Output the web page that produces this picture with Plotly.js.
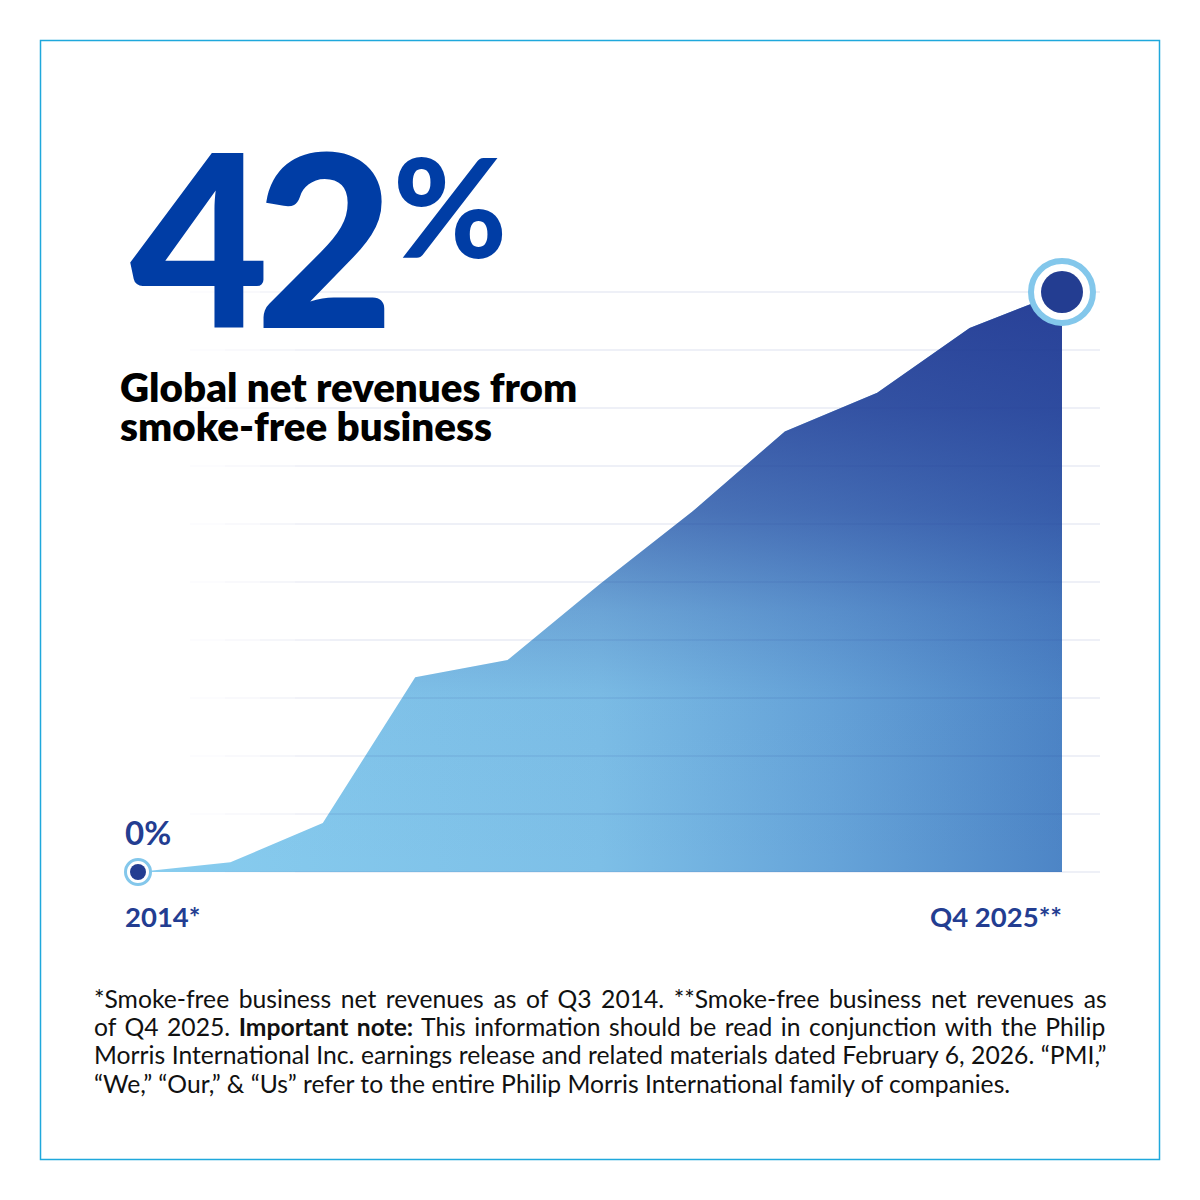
<!DOCTYPE html>
<html>
<head>
<meta charset="utf-8">
<script src="https://cdn.plot.ly/plotly-3.0.1.min.js"></script>
<style>
  html, body { margin: 0; padding: 0; background: #ffffff; }
  #chart { width: 1200px; height: 1200px; }
</style>
</head>
<body>
<div id="chart"></div>
<script>
// Smoke-free share of PMI global net revenues, 2014 (Q3) to Q4 2025, in %
const periods = ['2014', '2015', '2016', '2017', '2018', '2019', '2020', '2021', '2022', '2023', 'Q4 2025'];
const shareValues = [0, 0.7, 3.55, 14.1, 15.35, 20.85, 26.1, 31.9, 34.7, 39.4, 42.0];

const headlineValue = '42';
const startLabel = '0%';
const startPeriodLabel = '2014*';
const endPeriodLabel = 'Q4 2025**';
const titleLines = ['Global net revenues from', 'smoke-free business'];
const footnoteLines = [
  [{ t: '*Smoke-free business net revenues as of Q3 2014. **Smoke-free business net revenues as' }],
  [{ t: 'of Q4 2025. ' }, { t: 'Important note:', b: true }, { t: ' This information should be read in conjunction with the Philip' }],
  [{ t: 'Morris International Inc. earnings release and related materials dated February 6, 2026. \u201CPMI,\u201D' }],
  [{ t: '\u201CWe,\u201D \u201COur,\u201D & \u201CUs\u201D refer to the entire Philip Morris International family of companies.' }]
];

const NAVY = '#233D91';
const ROYAL = '#003DA5';
const SKY = '#83C7EB';
const FONT = 'Lato, "Open Sans", sans-serif';
const W = 1200, H = 1200;

// pixel helpers for paper-referenced decorations (margins are zero)
const px = x => x / W;
const py = y => 1 - y / H;
const ASC = 0.987;  // Lato ascent ratio, used to sit text on a baseline
const topFromBaseline = (base, fs) => py(base - ASC * fs - 1);

const idx = periods.map((_, i) => i);
const n = idx.length;

// plot box
const plotLeft = 100, plotRight = 1100, plotTop = 250, plotBottom = 880;
const firstX = 138, lastX = 1062, zeroY = 872, topY = 292;
const pxPerIdx = (lastX - firstX) / (n - 1);
const xRange = [-(firstX - plotLeft) / pxPerIdx, (n - 1) + (plotRight - lastX) / pxPerIdx];
const maxVal = shareValues[n - 1];
const pxPerPct = (zeroY - topY) / maxVal;
const yRange = [-(plotBottom - zeroY) / pxPerPct, maxVal + (topY - plotTop) / pxPerPct];

const traces = [];

// area with a left-to-right gradient
traces.push({
  x: idx, y: shareValues, type: 'scatter', mode: 'lines',
  line: { width: 0, shape: 'linear' },
  fill: 'tozeroy',
  fillgradient: {
    type: 'horizontal',
    colorscale: [[0, '#88CDEF'], [0.5, '#7DBFE7'], [0.75, '#66A4D9'], [1, '#4D85C6']]
  },
  hoverinfo: 'skip', showlegend: false
});
// darker wash that deepens toward the top
traces.push({
  x: idx, y: shareValues, type: 'scatter', mode: 'lines',
  line: { width: 0 },
  fill: 'tozeroy',
  fillgradient: {
    type: 'vertical',
    colorscale: [[0, 'rgba(35,55,145,0)'], [0.3, 'rgba(35,55,145,0.03)'], [0.45, 'rgba(35,55,145,0.2)'],
                 [0.62, 'rgba(35,55,145,0.52)'], [0.8, 'rgba(35,55,145,0.74)'], [1, 'rgba(35,55,145,0.88)']]
  },
  hoverinfo: 'skip', showlegend: false
});

// horizontal guides every tenth of the final value, fading in from the left
const gridStep = maxVal / 10;
const gridStartPx = 190, gridSolidPx = 330;
const toIdx = p => (p - firstX) / pxPerIdx;
const fadeSteps = [0.15, 0.35, 0.6, 0.85];
for (let k = 0; k <= 10; k++) {
  const lvl = k * gridStep;
  const segW = (gridSolidPx - gridStartPx) / fadeSteps.length;
  fadeSteps.forEach((a, j) => {
    traces.push({
      x: [toIdx(gridStartPx + j * segW), toIdx(gridStartPx + (j + 1) * segW)], y: [lvl, lvl],
      type: 'scatter', mode: 'lines', line: { color: 'rgba(45,60,150,' + (0.16 * a).toFixed(3) + ')', width: 1.2 },
      hoverinfo: 'skip', showlegend: false
    });
  });
  traces.push({
    x: [toIdx(gridSolidPx), xRange[1]], y: [lvl, lvl],
    type: 'scatter', mode: 'lines', line: { color: 'rgba(45,60,150,0.16)', width: 1.2 },
    hoverinfo: 'skip', showlegend: false
  });
}

// end-point markers: ring + dot
const ends = [0, n - 1];
traces.push({
  x: ends.map(i => idx[i]), y: ends.map(i => shareValues[i]),
  type: 'scatter', mode: 'markers', cliponaxis: false,
  marker: { size: [25, 62], color: '#ffffff', opacity: 1, line: { color: SKY, width: [3, 6] } },
  hoverinfo: 'skip', showlegend: false
});
traces.push({
  x: ends.map(i => idx[i]), y: ends.map(i => shareValues[i]),
  type: 'scatter', mode: 'markers', cliponaxis: false,
  marker: { size: [16, 42], color: NAVY, opacity: 1, line: { width: 0 } },
  hoverinfo: 'skip', showlegend: false
});

// justified footnote: spread word gaps so each line fills the column
const FN_SIZE = 24.7;
const fnLeft = 93, fnRight = 1106, fnBase0 = 1007, fnLead = 28.3;
const ctx = document.createElement('canvas').getContext('2d');
function lineWidth(parts) {
  let w = 0;
  parts.forEach(p => { ctx.font = (p.b ? '700 ' : '400 ') + FN_SIZE + 'px Lato'; w += ctx.measureText(p.t).width; });
  return w;
}
const annotations = [];
footnoteLines.forEach((parts, i) => {
  const last = i === footnoteLines.length - 1;
  const spaces = parts.reduce((s, p) => s + (p.t.match(/ /g) || []).length, 0);
  const ws = last ? 0 : ((fnRight - fnLeft) - lineWidth(parts)) / spaces;
  const body = parts.map(p => p.b ? '<b>' + p.t + '</b>' : p.t).join('');
  annotations.push({
    xref: 'paper', yref: 'paper', x: px(fnLeft - 1), y: topFromBaseline(fnBase0 + i * fnLead, FN_SIZE),
    xanchor: 'left', yanchor: 'top', align: 'left', showarrow: false,
    text: '<span style="word-spacing:' + ws.toFixed(2) + 'px">' + body + '</span>',
    font: { family: FONT, size: FN_SIZE, color: '#111111' }
  });
});

// headline figure
annotations.push({
  xref: 'paper', yref: 'paper', x: px(128), y: topFromBaseline(327, 240),
  xanchor: 'left', yanchor: 'top', showarrow: false,
  text: '<span style="letter-spacing:-14px">' + headlineValue + '</span>',
  font: { family: FONT, size: 240, color: ROYAL, weight: 900 }
});
annotations.push({
  xref: 'paper', yref: 'paper', x: px(391), y: topFromBaseline(257, 138),
  xanchor: 'left', yanchor: 'top', showarrow: false, text: '%',
  font: { family: FONT, size: 138, color: ROYAL, weight: 900 }
});
// title lines
titleLines.forEach((t, i) => {
  annotations.push({
    xref: 'paper', yref: 'paper', x: px(118), y: topFromBaseline(401 + i * 39, 40.3),
    xanchor: 'left', yanchor: 'top', showarrow: false, text: t,
    font: { family: FONT, size: 40.3, color: '#000000', weight: 800 }
  });
});
// start value and period labels
annotations.push({
  xref: 'paper', yref: 'paper', x: px(123), y: topFromBaseline(844, 33),
  xanchor: 'left', yanchor: 'top', showarrow: false, text: startLabel,
  font: { family: FONT, size: 33, color: NAVY, weight: 700 }
});
annotations.push({
  xref: 'paper', yref: 'paper', x: px(123), y: topFromBaseline(926, 27.5),
  xanchor: 'left', yanchor: 'top', showarrow: false, text: startPeriodLabel,
  font: { family: FONT, size: 27.5, color: NAVY, weight: 700 }
});
annotations.push({
  xref: 'paper', yref: 'paper', x: px(1064), y: topFromBaseline(926, 27.5),
  xanchor: 'right', yanchor: 'top', showarrow: false, text: endPeriodLabel,
  font: { family: FONT, size: 27.5, color: NAVY, weight: 700 }
});

const layout = {
  width: W, height: H,
  margin: { l: 0, r: 0, t: 0, b: 0 },
  paper_bgcolor: '#ffffff', plot_bgcolor: 'rgba(0,0,0,0)',
  showlegend: false,
  xaxis: {
    domain: [plotLeft / W, plotRight / W], range: xRange,
    showgrid: false, zeroline: false, showticklabels: false, ticks: '', showline: false, fixedrange: true
  },
  yaxis: {
    domain: [1 - plotBottom / H, 1 - plotTop / H], range: yRange,
    showgrid: false, zeroline: false, showticklabels: false, ticks: '', showline: false, fixedrange: true
  },
  shapes: [{
    type: 'rect', xref: 'paper', yref: 'paper', layer: 'above',
    x0: px(40.5), x1: px(1159.5), y0: py(40.5), y1: py(1159.5),
    line: { color: '#1FA8DC', width: 1.5 }, fillcolor: 'rgba(0,0,0,0)'
  }],
  annotations: annotations
};

Plotly.newPlot('chart', traces, layout, { staticPlot: true, displayModeBar: false });
</script>
</body>
</html>
